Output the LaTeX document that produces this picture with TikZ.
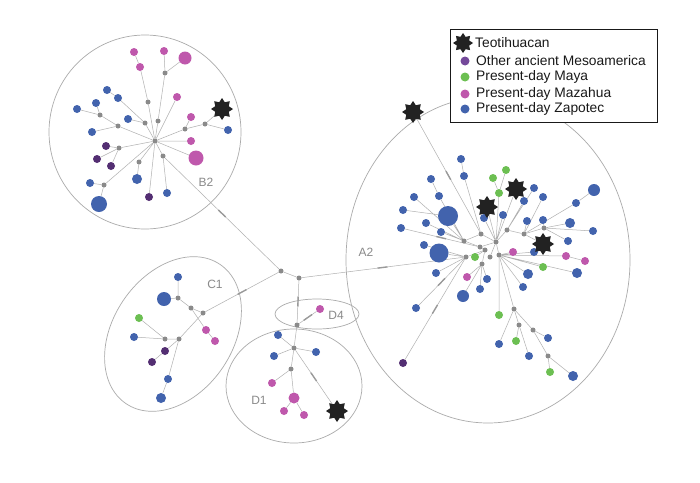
\documentclass[tikz,border=0pt]{standalone}
\usepackage{fontspec}
\setmainfont{Liberation Sans}
\usetikzlibrary{shapes.geometric,decorations.markings}
\pgfdeclarelayer{bg}
\pgfsetlayers{bg,main}
\definecolor{zapc}{HTML}{4263AD}
\definecolor{mazc}{HTML}{BF58AC}
\definecolor{mayc}{HTML}{6CBF52}
\definecolor{ancc}{HTML}{532E72}
\definecolor{ancl}{HTML}{74499A}
\definecolor{grayc}{HTML}{8A8A8A}
\definecolor{edgec}{HTML}{B0B0B0}
\definecolor{tickc}{HTML}{9A9A9A}
\definecolor{grpc}{HTML}{ABABAB}
\definecolor{lblc}{HTML}{8A8A8A}
\definecolor{teoc}{HTML}{222222}
\begin{document}
\begin{tikzpicture}[x=1pt,y=-1pt,
 dot/.style={circle,inner sep=0pt,minimum size=8pt},
 zap/.style={dot,fill=zapc}, maz/.style={dot,fill=mazc},
 may/.style={dot,fill=mayc}, anc/.style={dot,fill=ancc},
 gry/.style={circle,inner sep=0pt,minimum size=5pt,fill=grayc},
 teo/.style={star,star points=8,star point ratio=1.5,fill=teoc,inner sep=0pt,minimum size=22pt},
 edge/.style={draw=edgec,line width=0.5pt},
 mut/.style={postaction={decorate,decoration={markings,mark=at position 0.5 with {\fill[tickc] (-5pt,-0.7pt) rectangle (5pt,0.7pt);}}}},
 grp/.style={draw=grpc,line width=0.7pt},
 lbl/.style={text=lblc,font=\fontsize{12}{14}\selectfont,inner sep=0pt},
 lt/.style={text=black!90,font=\fontsize{13.8}{16}\selectfont,inner sep=0pt,anchor=west},
 sz/.style={minimum size=#1pt}]
\useasboundingbox (0,0) rectangle (700,482);

% ---------- B2 ----------
\node[gry] (bh) at (155,141) {};
\node[gry] (bgA) at (158,121) {};
\node[gry] (bgB) at (165,73) {};
\node[maz,sz=13] (bm1) at (185,58) {};
\node[maz] (bm2) at (164,51) {};
\node[gry] (bgC) at (148,102) {};
\node[maz] (bm3) at (140,67) {};
\node[maz] (bm4) at (134,52) {};
\node[maz] (bm5) at (177,97) {};
\node[gry] (bgD) at (145,123) {};
\node[zap] (bz1) at (128,119) {};
\node[zap] (bz2) at (118,98) {};
\node[zap] (bz3) at (107,90) {};
\node[gry] (bgE) at (118,126) {};
\node[zap] (bz4) at (92,132) {};
\node[gry] (bgF) at (100,115) {};
\node[zap] (bz5) at (96,103) {};
\node[zap] (bz6) at (77,109) {};
\node[gry] (bgG) at (185,129) {};
\node[maz] (bm6) at (191,117) {};
\node[gry] (bgH) at (205,124) {};
\node[teo] (bs) at (222,109) {};
\node[zap] (bz7) at (228,130) {};
\node[maz] (bm7) at (191,141) {};
\node[maz,sz=15] (bm8) at (196,158) {};
\node[gry] (bgI) at (119,148) {};
\node[anc] (bp1) at (106,146) {};
\node[anc] (bp2) at (97,159) {};
\node[anc] (bp3) at (111,166) {};
\node[gry] (bgJ) at (139,162) {};
\node[zap,sz=10] (bz8) at (137,179) {};
\node[gry] (bgK) at (163,156) {};
\node[zap] (bz9) at (167,193) {};
\node[anc] (bp4) at (149,197) {};
\node[gry] (bgL) at (104,185) {};
\node[zap] (bz10) at (90,183) {};
\node[zap,sz=16] (bz11) at (99,204) {};

% ---------- junctions ----------
\node[gry] (j1) at (281,271) {};
\node[gry] (j2) at (299,278) {};

% ---------- C1 ----------
\node[gry] (c0) at (203,313) {};
\node[gry] (c1) at (191,308) {};
\node[gry] (c2) at (178,298) {};
\node[zap] (cz1) at (178,277) {};
\node[zap,sz=14] (czL) at (164,299) {};
\node[maz] (cm1) at (206,330) {};
\node[maz] (cm2) at (215,341) {};
\node[gry] (c3) at (179,339) {};
\node[gry] (c4) at (165,339) {};
\node[may] (cg1) at (139,318) {};
\node[zap] (cz2) at (134,337) {};
\node[anc] (cp1) at (165,351) {};
\node[anc] (cp2) at (152,362) {};
\node[zap] (cz3) at (168,379) {};
\node[zap,sz=10] (cz4) at (161,398) {};

% ---------- D4 / D1 ----------
\node[gry] (d0) at (297,325) {};
\node[maz] (dm0) at (320,309) {};
\node[gry] (d1) at (294,348) {};
\node[zap] (dz1) at (278,335) {};
\node[zap] (dz2) at (274,356) {};
\node[zap] (dz3) at (316,352) {};
\node[gry] (d2) at (291,369) {};
\node[maz] (dm1) at (272,383) {};
\node[maz,sz=11] (dmL) at (294,398) {};
\node[maz] (dm2) at (284,411) {};
\node[maz] (dm3) at (304,415) {};
\node[teo] (ds) at (337,411) {};

% ---------- A2 ----------
\node[zap] (az3) at (484,218) {};
\node[gry] (a0) at (496,242) {};
\node[gry] (a1) at (481,234) {};
\node[gry] (a2) at (464,241) {};
\node[gry] (a3) at (480,247) {};
\node[gry] (a4) at (485,250) {};
\node[gry] (a5) at (466,257) {};
\node[gry] (a6) at (490,257) {};
\node[gry] (a7) at (499,255) {};
\node[gry] (a8) at (482,264) {};
\node[gry] (a9) at (507,230) {};
\node[gry] (a10) at (524,234) {};
\node[gry] (a11) at (544,228) {};
\node[gry] (a12) at (514,309) {};
\node[gry] (a13) at (519,325) {};
\node[gry] (a14) at (533,330) {};
\node[gry] (a15) at (548,356) {};
\node[teo] (as1) at (413,112) {};
\node[zap] (az1) at (461,159) {};
\node[zap] (az2) at (464,176) {};
\node[may] (ag1) at (506,170) {};
\node[may] (ag2) at (493,178) {};
\node[may] (ag3) at (499,193) {};
\node[teo] (as2) at (516,189) {};
\node[teo] (as3) at (487,207) {};
\node[zap] (az4) at (503,215) {};
\node[zap] (az5) at (431,179) {};
\node[zap] (az6) at (439,196) {};
\node[zap] (az7) at (414,197) {};
\node[zap] (az8) at (403,210) {};
\node[zap,sz=20] (azL1) at (448,216) {};
\node[zap] (az9) at (426,223) {};
\node[zap] (az10) at (401,228) {};
\node[zap] (az11) at (441,232) {};
\node[zap] (az12) at (424,245) {};
\node[zap,sz=19] (azL2) at (439,253) {};
\node[may] (ag4) at (475,257) {};
\node[zap] (az13) at (436,273) {};
\node[zap] (az14) at (416,308) {};
\node[anc] (ap1) at (403,363) {};
\node[maz] (am1) at (467,277) {};
\node[zap] (az15) at (487,279) {};
\node[zap] (az16) at (480,289) {};
\node[zap,sz=12] (azL3) at (463,296) {};
\node[zap] (az17) at (534,188) {};
\node[zap] (az18) at (543,197) {};
\node[zap] (az19) at (524,201) {};
\node[zap,sz=12] (azL4) at (594,190) {};
\node[zap] (az20) at (576,203) {};
\node[zap] (az21) at (527,221) {};
\node[zap] (az22) at (543,220) {};
\node[zap,sz=10] (az23) at (570,223) {};
\node[zap] (az24) at (593,231) {};
\node[zap] (az25) at (568,241) {};
\node[zap] (az26) at (534,252) {};
\node[teo] (as4) at (543,244) {};
\node[maz] (am2) at (513,252) {};
\node[maz] (am3) at (566,256) {};
\node[maz] (am4) at (585,261) {};
\node[may] (ag5) at (543,267) {};
\node[zap,sz=10] (azL5) at (577,273) {};
\node[zap,sz=10] (az27) at (528,274) {};
\node[zap] (az28) at (523,287) {};
\node[may] (ag6) at (499,315) {};
\node[zap] (az29) at (499,344) {};
\node[may] (ag7) at (516,341) {};
\node[zap] (az30) at (529,356) {};
\node[zap] (az31) at (548,338) {};
\node[may] (ag8) at (550,372) {};
\node[zap,sz=10] (azL6) at (573,376) {};

% ---------- group labels ----------
\node[lbl] (lB2) at (206,182) {B2};
\node[lbl] (lA2) at (366,252) {A2};
\node[lbl] (lC1) at (215,284) {C1};
\node[lbl] (lD4) at (336,315) {D4};
\node[lbl] (lD1) at (259,400) {D1};

\begin{pgfonlayer}{bg}
\fill[white] (0,0) rectangle (700,482);
% groups
\draw[grp] (145,132) ellipse [x radius=96pt, y radius=97pt];
\draw[grp] (488,260) ellipse [x radius=142pt, y radius=163pt];
\draw[grp,rotate around={56:(173,334)}] (173,334) ellipse [x radius=84pt, y radius=60pt];
\draw[grp] (317,314) ellipse [x radius=42pt, y radius=15pt];
\draw[grp] (294,386) ellipse [x radius=68pt, y radius=57pt];
% B2 edges
\draw[edge] (bh) -- (bgA) (bgA) -- (bgB) (bgB) -- (bm1) (bgB) -- (bm2)
 (bh) -- (bgC) (bgC) -- (bm3) (bm3) -- (bm4) (bh) -- (bm5)
 (bh) -- (bgD) (bgD) -- (bz1) (bgD) -- (bz2) (bz2) -- (bz3)
 (bh) -- (bgE) (bgE) -- (bz4) (bgE) -- (bgF) (bgF) -- (bz5) (bgF) -- (bz6)
 (bh) -- (bgG) (bgG) -- (bm6) (bgG) -- (bgH) (bgH) -- (bs) (bgH) -- (bz7)
 (bh) -- (bm7) (bh) -- (bm8)
 (bh) -- (bgI) (bgI) -- (bp1) (bgI) -- (bp2) (bgI) -- (bp3)
 (bh) -- (bgJ) (bgJ) -- (bz8) (bh) -- (bgK) (bgK) -- (bz9) (bh) -- (bp4)
 (bh) -- (bgL) (bgL) -- (bz10) (bgL) -- (bz11);
\draw[edge,mut] (bgK) -- (j1);
\draw[edge] (j1) -- (j2);
\draw[edge,mut] (j1) -- (c0);
\draw[edge,mut] (j2) -- (a5);
\draw[edge,mut] (j2) -- (d0);
% C1 edges
\draw[edge] (c0) -- (c1) (c1) -- (c2) (c2) -- (cz1) (c2) -- (czL)
 (c1) -- (cm1) (cm1) -- (cm2) (c0) -- (c3) (c3) -- (c4) (c4) -- (cg1) (c4) -- (cz2)
 (c3) -- (cp1) (cp1) -- (cp2) (c3) -- (cz3) (cz3) -- (cz4);
% D edges
\draw[edge,mut] (d0) -- (dm0);
\draw[edge] (d0) -- (d1) (d1) -- (dz1) (d1) -- (dz2) (d1) -- (dz3) (d1) -- (d2)
 (d2) -- (dm1) (d2) -- (dmL) (dmL) -- (dm2) (dmL) -- (dm3);
\draw[edge,mut] (d1) -- (ds);
% A2 edges
\draw[edge] (a0) -- (a1) (a1) -- (a2) (a0) -- (a3) (a3) -- (a4) (a4) -- (a5)
 (a4) -- (a8) (a0) -- (a6) (a0) -- (a7) (a0) -- (a9) (a9) -- (a10) (a10) -- (a11)
 (a7) -- (a12) (a12) -- (a13) (a12) -- (a14) (a14) -- (a15);
\draw[edge,mut] (as1) -- (a1);
\draw[edge] (az1) -- (az2) (az2) -- (a1)
 (ag1) -- (ag3) (ag2) -- (ag3) (ag3) -- (a0) (as2) -- (a0) (as3) -- (a0) (az3) -- (a0) (az4) -- (a0)
 (az5) -- (az6) (az6) -- (a2) (az7) -- (a2) (az8) -- (azL1) (azL1) -- (a2) (az9) -- (a2)
 (az11) -- (a3) (az12) -- (a5) (azL2) -- (a5) (ag4) -- (a4)
 (az13) -- (a5)
 (am1) -- (a8) (az15) -- (a8) (az16) -- (a8) (azL3) -- (a8)
 (az17) -- (a9) (az18) -- (a10) (az19) -- (a9) (azL4) -- (az20) (az20) -- (a10)
 (az21) -- (a10) (az22) -- (a11) (az23) -- (a11) (az24) -- (a11) (az25) -- (a11)
 (as4) -- (a10) (az26) -- (a7) (am2) -- (a7) (am3) -- (a7) (am3) -- (am4)
 (ag5) -- (a7) (azL5) -- (a7) (az27) -- (a7) (az28) -- (a7) (ag6) -- (a7)
 (a12) -- (az29) (a13) -- (ag7) (a13) -- (az30) (a14) -- (az31)
 (a15) -- (ag8) (a15) -- (azL6);
\draw[edge,mut] (ap1) -- (a5);
\draw[edge,mut] (az14) -- (a5);
\draw[edge,mut] (az10) -- (a3);
\end{pgfonlayer}

% ---------- legend ----------
\node[draw=black!90,line width=0.8pt,fill=white,minimum width=207pt,minimum height=93pt,inner sep=0pt,anchor=north west] (leg) at (450,29) {};
\node[teo,minimum size=20pt] (lgs) at (463,43) {};
\node[dot,fill=ancl,sz=9] (lga) at (465,61) {};
\node[may,sz=9] (lgm) at (465,77) {};
\node[maz,sz=9] (lgz) at (465,94) {};
\node[zap,sz=9] (lgp) at (465,109) {};
\node[lt] (lgt1) at (475,43) {Teotihuacan};
\node[lt] (lgt2) at (476,61) {Other ancient Mesoamerica};
\node[lt] (lgt3) at (476,77) {Present-day Maya};
\node[lt] (lgt4) at (476,94) {Present-day Mazahua};
\node[lt] (lgt5) at (476,109) {Present-day Zapotec};
\end{tikzpicture}
\end{document}
